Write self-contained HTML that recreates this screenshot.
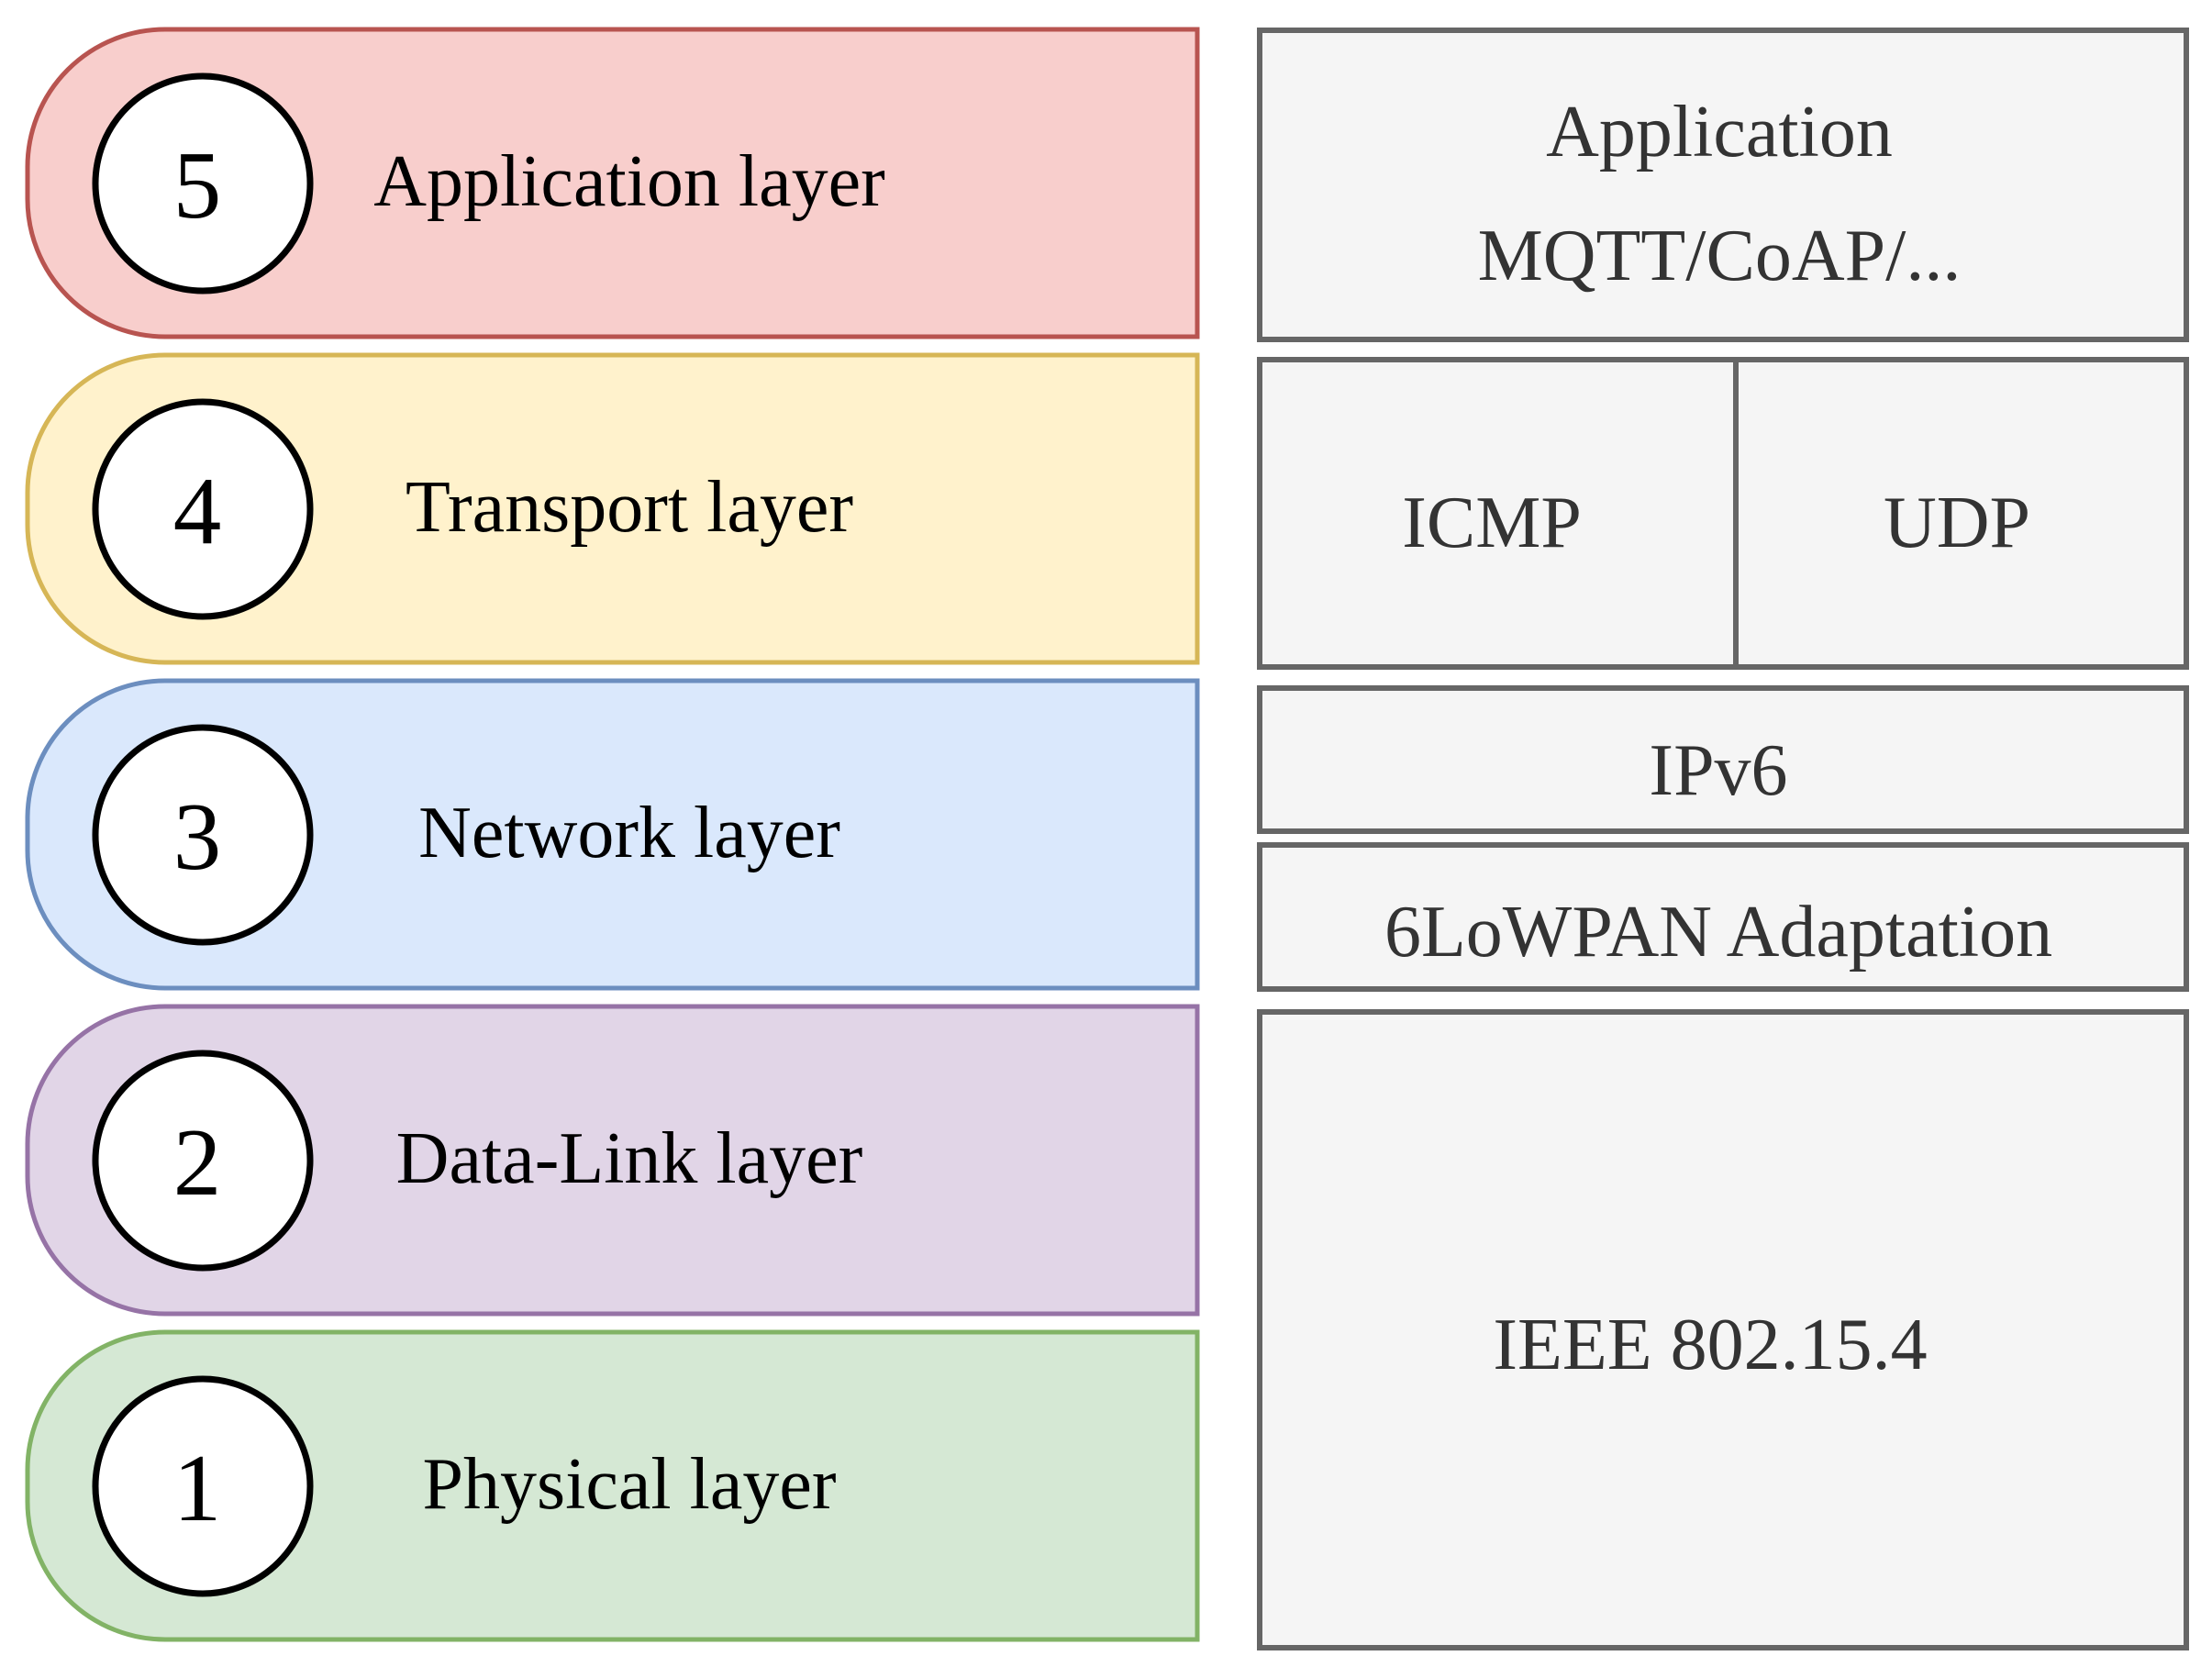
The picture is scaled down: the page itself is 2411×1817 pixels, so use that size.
<!DOCTYPE html>
<html><head><meta charset="utf-8"><style>
html,body{margin:0;padding:0;background:#fff;}
svg{display:block;}
text{font-family:"Liberation Serif",serif;}
</style></head><body>
<svg width="2411" height="1817" viewBox="0 0 2411 1817" xmlns="http://www.w3.org/2000/svg">
<g stroke-width="5">
<path d="M180,32 H1305 V367 H180 A150,150 0 0 1 30,217 V182 A150,150 0 0 1 180,32 Z" fill="#f8cecc" stroke="#b85450"/>
<path d="M180,387 H1305 V722 H180 A150,150 0 0 1 30,572 V537 A150,150 0 0 1 180,387 Z" fill="#fff2cc" stroke="#d6b656"/>
<path d="M180,742 H1305 V1077 H180 A150,150 0 0 1 30,927 V892 A150,150 0 0 1 180,742 Z" fill="#dae8fc" stroke="#6c8ebf"/>
<path d="M180,1097 H1305 V1432 H180 A150,150 0 0 1 30,1282 V1247 A150,150 0 0 1 180,1097 Z" fill="#e1d5e7" stroke="#9673a6"/>
<path d="M180,1452 H1305 V1787 H180 A150,150 0 0 1 30,1637 V1602 A150,150 0 0 1 180,1452 Z" fill="#d5e8d4" stroke="#82b366"/>
</g>
<g fill="#fff" stroke="#000" stroke-width="7">
<circle cx="221" cy="200" r="117"/>
<circle cx="221" cy="555" r="117"/>
<circle cx="221" cy="910" r="117"/>
<circle cx="221" cy="1265" r="117"/>
<circle cx="221" cy="1620" r="117"/>
</g>
<g font-size="105" text-anchor="middle" fill="#000">
<text x="215" y="237">5</text>
<text x="215" y="592">4</text>
<text x="215" y="947">3</text>
<text x="215" y="1302">2</text>
<text x="215" y="1657">1</text>
</g>
<g font-size="80" text-anchor="middle" fill="#000">
<text x="686" y="224">Application layer</text>
<text x="686" y="579">Transport layer</text>
<text x="686" y="934">Network layer</text>
<text x="686" y="1289">Data-Link layer</text>
<text x="686" y="1644">Physical layer</text>
</g>
<g fill="#f5f5f5" stroke="#666" stroke-width="6">
<rect x="1373" y="33" width="1010" height="337"/>
<rect x="1373" y="392" width="1010" height="335"/>
<line x1="1892" y1="392" x2="1892" y2="727"/>
<rect x="1373" y="750" width="1010" height="156"/>
<rect x="1373" y="921" width="1010" height="157"/>
<rect x="1373" y="1103" width="1010" height="693"/>
</g>
<g font-size="80" text-anchor="middle" fill="#333">
<text x="1874" y="170">Application</text>
<text x="1874" y="305">MQTT/CoAP/...</text>
<text x="1626" y="596">ICMP</text>
<text x="2133" y="596">UDP</text>
<text x="1873" y="866">IPv6</text>
<text x="1873" y="1042">6LoWPAN Adaptation</text>
<text x="1864" y="1492">IEEE 802.15.4</text>
</g>
</svg>
</body></html>
